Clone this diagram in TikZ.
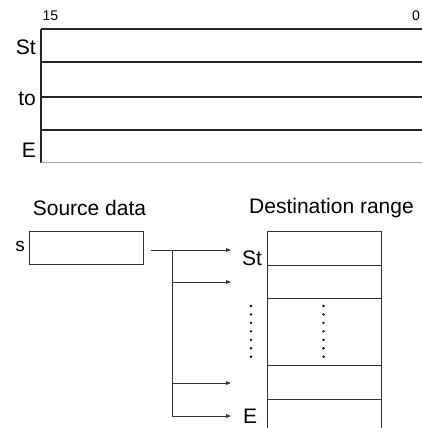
\documentclass[tikz,border=0pt]{standalone}
\usepackage{fontspec}
\setmainfont{Liberation Sans}
\usetikzlibrary{arrows.meta}
\tikzset{
  x=1pt,y=-1pt,
  >={Triangle[length=5pt,width=3.6pt]},
  reg/.style={line width=1.5pt,draw=black!85},
  cell/.style={draw=black!80,line width=1pt,minimum width=114pt,minimum height=#1,
    inner sep=0pt,outer sep=0pt,anchor=north west},
  cell/.default=33.4pt,
  lbl/.style={font=\fontsize{21}{21}\selectfont,inner sep=0pt},
  small/.style={font=\fontsize{14}{14}\selectfont,inner sep=0pt},
  feed/.style={->,line width=1pt,draw=black!80},
}
\begin{document}
\begin{tikzpicture}
  \useasboundingbox (0,0) rectangle (421,428);
  % word layout
  \node[small] (msb) at (50.5,16) {15};
  \node[small] (lsb) at (416,16) {0};
  \draw[reg] (41,29) -- (41,163);
  \foreach \y in {29,62,97,130} \draw[reg] (41,\y) -- (430,\y);
  \draw[black!35,line width=0.8pt] (41,162) -- (430,162);
  \node[lbl,anchor=east] (wst) at (36,47) {St};
  \node[lbl,anchor=east] (wto) at (36,99) {to};
  \node[lbl,anchor=east] (we) at (36,150) {E};
  % source and destination
  \node[lbl] (srclbl) at (89.5,208) {Source data};
  \node[lbl] (dstlbl) at (331.5,208) {Destination range};
  \node[cell=32.6pt] (src) at (29.5,231.7) {};
  \node[lbl,anchor=east,font=\fontsize{19}{19}\selectfont] (s) at (25,246) {s};
  \node[cell] (d1) at (267,231.7) {};
  \node[cell] (d2) at (267,265.1) {};
  \node[cell=67.3pt] (d3) at (267,298.5) {};
  \node[cell] (d4) at (267,365.8) {};
  \node[cell=40pt] (d5) at (267,399.2) {};
  \node[lbl] (st) at (252,258) {St};
  \node[lbl] (en) at (250,416.5) {E};
  % fan out
  \coordinate (out) at (150.5,250);
  \coordinate (fork) at (172,250);
  \coordinate (bot) at (172,416);
  \draw[feed] (out) -- (231,250);
  \draw[line width=1pt,black!80] (fork) -- (bot);
  \foreach \y in {282,383} \draw[feed] (172,\y) -- (231,\y);
  \draw[feed] (bot) -- (231,416);
  \foreach \i in {0,...,6} {
    \fill (251,306+8.45*\i) circle (1.3pt);
    \fill (323.5,306+8.45*\i) circle (1.3pt);
  }
\end{tikzpicture}
\end{document}
